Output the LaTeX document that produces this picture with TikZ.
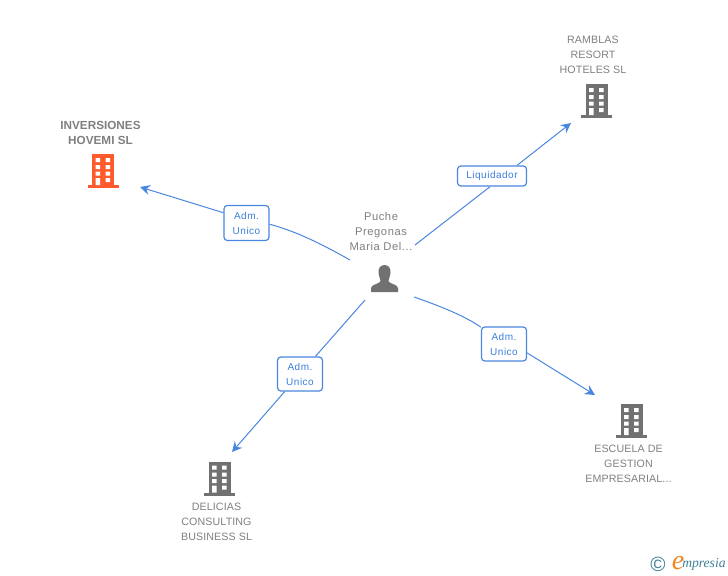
\documentclass[tikz,border=0pt]{standalone}
\usepackage{fontspec}
\setmainfont{Liberation Sans}
\newfontfamily\spacedfont[LetterSpace=5]{Liberation Sans}
\newfontfamily\tightfont[LetterSpace=1]{Liberation Sans}
\newfontfamily\logofont{Liberation Serif}
\usetikzlibrary{arrows.meta,backgrounds}
\definecolor{linkblue}{HTML}{4A86E0}
\definecolor{labelblue}{HTML}{3C7FDB}
\definecolor{namegray}{HTML}{7F7F7F}
\definecolor{iconorange}{HTML}{FF5A2C}
\definecolor{icongray}{HTML}{717171}
\definecolor{logoteal}{HTML}{3F7F95}
\definecolor{logoorange}{HTML}{F0861E}
\tikzset{
    company/.style={text=namegray, align=center, font=\tightfont\fontsize{8}{11.25}\selectfont},
    owner/.style={text=namegray, align=center, font=\spacedfont\fontsize{8.4}{11.25}\selectfont},
    role/.style={draw=linkblue, line width=0.9pt, rounded corners=2.5pt, fill=white, text=labelblue, align=center, inner sep=0pt, font=\spacedfont\fontsize{7.5}{11.25}\selectfont},
    link/.style={draw=linkblue, line width=0.75pt},
    linkend/.style={link, -{Stealth[length=7.5pt, width=7.5pt, inset=2.5pt]}},
    pics/tower/.style={code={
        \fill [#1] (-11,-16) rectangle (11,15);
        \fill [#1] (-15.5,15) rectangle (15.5,18);
        \fill [white] (-7.5,-12) rectangle (-3,-8) (2.5,-12) rectangle (7,-8);
        \fill [white] (-7.5,-5) rectangle (-3,-1) (2.5,-5) rectangle (7,-1);
        \fill [white] (-7.5,1.5) rectangle (-3,5.5) (2.5,1.5) rectangle (7,5.5);
        \fill [white] (-7.5,8) rectangle (-3,15) (2.5,8) rectangle (7,12);
    }},
}
\begin{document}
\begin{tikzpicture}[x=0.75pt, y=-0.75pt]
    \useasboundingbox (0,0) rectangle (728,575);
    % free ends of the links
    \coordinate (leftstart) at (350,260);
    \coordinate (leftend) at (140,187);
    \coordinate (upstart) at (415,245);
    \coordinate (upend) at (571,123);
    \coordinate (rightstart) at (414,297);
    \coordinate (rightend) at (595,395);
    \coordinate (downstart) at (365,300);
    \coordinate (downend) at (232,452);
    % role boxes
    \node [role, minimum width=33.75pt, minimum height=26.25pt] (roleleft) at (246.5,223) {Adm.\\Unico};
    \node [role, minimum width=51.75pt, minimum height=15pt] (roleup) at (492,176) {Liquidador};
    \node [role, minimum width=33.75pt, minimum height=25.5pt] (roleright) at (504,344) {Adm.\\Unico};
    \node [role, minimum width=33.75pt, minimum height=25.5pt] (roledown) at (300,374) {Adm.\\Unico};
    % links
    \begin{scope}[on background layer]
        \draw [link] (leftstart) .. controls (320,243) and (295,231) .. (roleleft.-3);
        \draw [linkend] (roleleft.156) -- (leftend);
        \draw [link] (upstart) -- (roleup.-100);
        \draw [linkend] (roleup.23) -- (upend);
        \draw [link] (rightstart) .. controls (440,306) and (465,316) .. (roleright.144);
        \draw [linkend] (roleright.-21) -- (rightend);
        \draw [link] (downstart) -- (roledown);
        \draw [linkend] (roledown) -- (downend);
    \end{scope}
    % companies
    \pic at (103,170) {tower=iconorange};
    \node [company, font=\bfseries\fontsize{8.8}{11.25}\selectfont] (inversiones) at (100.5,133) {INVERSIONES\\HOVEMI SL};
    \pic at (596.5,100) {tower=icongray};
    \node [company] (ramblas) at (593,55) {RAMBLAS\\RESORT\\HOTELES SL};
    \pic at (631.5,420) {tower=icongray};
    \node [company] (escuela) at (628.5,464) {ESCUELA DE\\GESTION\\EMPRESARIAL...};
    \pic at (219.5,477.5) {tower=icongray};
    \node [company] (delicias) at (216.5,522) {DELICIAS\\CONSULTING\\BUSINESS SL};
    % person
    \node [owner] (puche) at (381,231) {Puche\\Pregonas\\Maria Del...};
    \fill [icongray] (384.5,265) .. controls (380,265) and (378,269) .. (378.5,273)
        .. controls (379,277) and (380.5,279) .. (380.5,281)
        .. controls (380,284) and (371.5,284) .. (371,288) -- (371,292) -- (398,292) -- (398,288)
        .. controls (397.5,284) and (389,284) .. (388.5,281)
        .. controls (388.5,279) and (390,277) .. (390.5,273)
        .. controls (391,269) and (389,265) .. (384.5,265) -- cycle;
    % logo
    \node [text=logoteal, font=\fontsize{15.5}{15.5}\selectfont, inner sep=0pt] (copyrightmark) at (658,564) {\textcopyright};
    \node [text=logoorange, font=\logofont\itshape\fontsize{21}{21}\selectfont, inner sep=0pt] (logoe) at (678,563) {e};
    \node [text=logoteal, font=\logofont\itshape\fontsize{10.2}{10.2}\selectfont, anchor=west, inner sep=0pt] (logotext) at (682,564) {mpresia};
\end{tikzpicture}
\end{document}
